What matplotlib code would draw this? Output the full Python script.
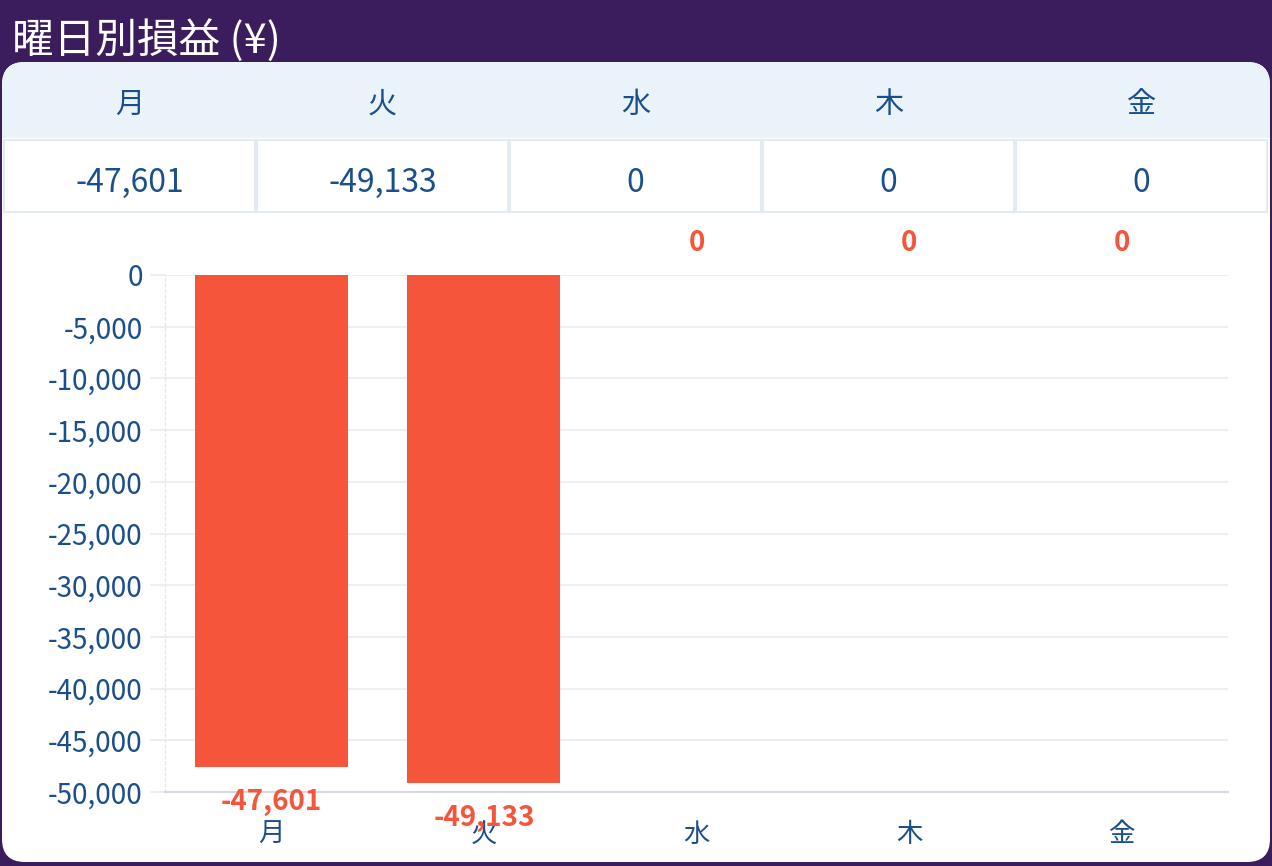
import matplotlib
matplotlib.use("Agg")
import matplotlib.pyplot as plt
from matplotlib.patches import FancyBboxPatch, Rectangle
from matplotlib.ticker import FuncFormatter, MultipleLocator

plt.rcParams['font.family'] = ['Noto Sans CJK JP', 'DejaVu Sans']

title = "曜日別損益 (¥)"
days = ['月', '火', '水', '木', '金']
values = [-47601, -49133, 0, 0, 0]

W, H = 1272, 866
fig = plt.figure(figsize=(W / 100, H / 100), dpi=100)
fig.patch.set_facecolor('#3B1D5E')

BLUE = '#1B4F8C'
RED = '#F5553A'
GRID = '#EBEFF4'

def fx(x):
    return x / W

def fy(y):
    return 1 - y / H

def add(p):
    p.set_zorder(-10)
    fig.patches.append(p)

# card
add(FancyBboxPatch((fx(2), fy(862)), fx(1268), (862 - 62) / H,
                   boxstyle="round,pad=0,rounding_size=0.018",
                   transform=fig.transFigure, facecolor='white',
                   edgecolor='none', mutation_aspect=W / H))
# header band (rounded top)
add(FancyBboxPatch((fx(2), fy(138)), fx(1268), (138 - 62) / H,
                   boxstyle="round,pad=0,rounding_size=0.018",
                   transform=fig.transFigure, facecolor='#EAF2FA',
                   edgecolor='none', mutation_aspect=W / H))
add(Rectangle((fx(2), fy(138)), fx(1268), 40 / H,
              transform=fig.transFigure, facecolor='#EAF2FA', edgecolor='none'))

fig.text(fx(12), fy(40), title, color='white', fontsize=30,
         ha='left', va='center')

cell_left = [4, 257, 510, 763, 1016]
cell_w = 251
for i, (d, v) in enumerate(zip(days, values)):
    x0 = cell_left[i]
    add(Rectangle((fx(x0), fy(212)), fx(cell_w), 72 / H,
                  transform=fig.transFigure, facecolor='white',
                  edgecolor='#E3EAF2', linewidth=1.5))
    cx = x0 + cell_w / 2
    fig.text(fx(cx), fy(105), d, color=BLUE, fontsize=21, ha='center', va='center')
    fig.text(fx(cx), fy(183), f"{v:,}", color=BLUE, fontsize=23, ha='center', va='center')

ax = fig.add_axes([fx(165), fy(792), fx(1228 - 165), (792 - 275) / H])
ax.set_zorder(5)
ax.set_facecolor('none')
x = list(range(len(days)))
ax.bar(x, values, width=0.72, color=RED, zorder=3)
ax.set_xlim(-0.5, len(days) - 0.5)
ax.set_ylim(-50000, 0)
ax.yaxis.set_major_locator(MultipleLocator(5000))
ax.yaxis.set_major_formatter(FuncFormatter(lambda v, p: f"{int(round(v)):,}"))
ax.grid(axis='y', color=GRID, linewidth=1.5, zorder=0)
ax.set_xticks(x)
ax.set_xticklabels(days)
ax.tick_params(axis='x', length=0, pad=21, labelsize=19, labelcolor=BLUE)
ax.tick_params(axis='y', length=11, width=1.5, color=GRID, pad=5,
               labelsize=20, labelcolor=BLUE)
for s in ['top', 'right']:
    ax.spines[s].set_visible(False)
ax.spines['left'].set_color('#E3E8EF')
ax.spines['left'].set_linestyle((0, (2, 2)))
ax.spines['left'].set_linewidth(1)
ax.spines['bottom'].set_color('#D3D8E2')
ax.spines['bottom'].set_linewidth(1.5)

for i, v in enumerate(values):
    off = -35 if v < 0 else 32
    ax.annotate(f"{v:,}", (i, v), xytext=(0, off), textcoords='offset pixels',
                ha='center', va='center', color=RED, fontsize=20,
                fontweight='bold', zorder=5, annotation_clip=False)

fig.savefig('out.png', dpi=100, facecolor=fig.get_facecolor())
